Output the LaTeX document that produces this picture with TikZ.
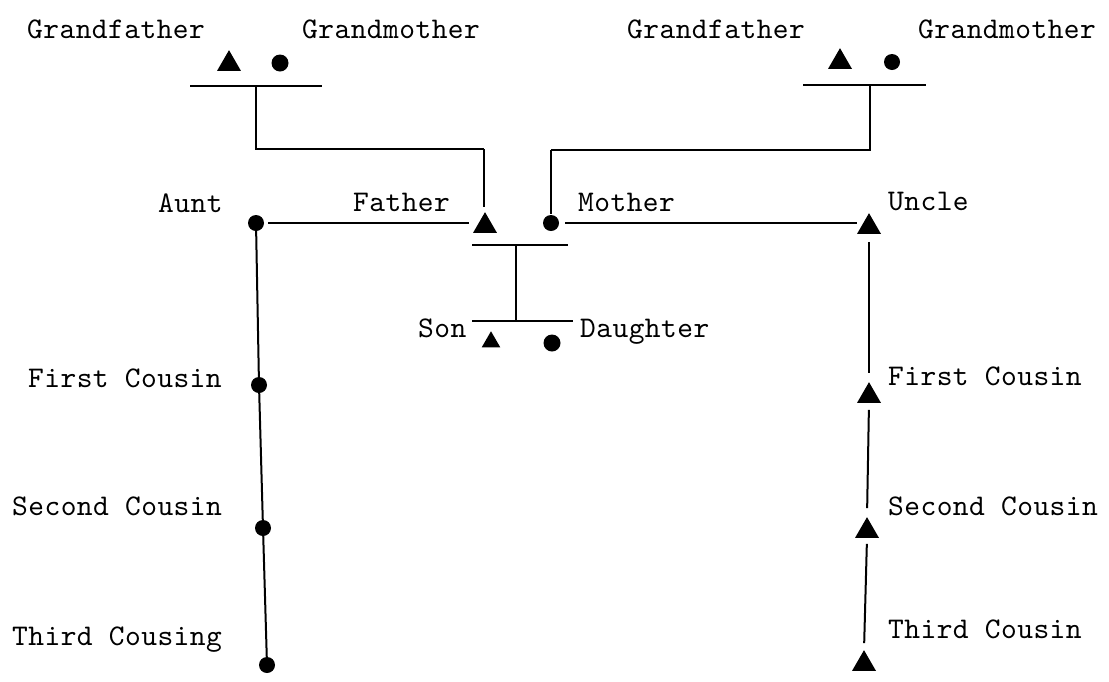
\documentclass[tikz,border=0pt]{standalone}
\usepackage{fontspec}
\newfontfamily\twfont{lmmono10-regular.otf}[LetterSpace=1.5]
\usetikzlibrary{shapes.geometric}
\begin{document}
\begin{tikzpicture}[x=1pt,y=-1pt,
  lbl/.style={anchor=base west, inner sep=0, font=\twfont\fontsize{30}{30}\selectfont},
  male/.style={regular polygon, regular polygon sides=3, fill=black, inner sep=0, outer sep=0, minimum size=27.7pt},
  smale/.style={male, minimum size=21.5pt},
  female/.style={circle, fill=black, inner sep=0, outer sep=0, minimum size=16pt},
  link/.style={line width=2pt}]
\useasboundingbox (0,0) rectangle (1109,681);

% labels
\node[lbl] (tGFL) at (27,38) {Grandfather};
\node[lbl] (tGML) at (302,38) {Grandmother};
\node[lbl] (tGFR) at (627,38) {Grandfather};
\node[lbl] (tGMR) at (918,38) {Grandmother};
\node[lbl] (tAunt) at (158,212) {Aunt};
\node[lbl] (tFather) at (353,211) {Father};
\node[lbl] (tMother) at (578,211) {Mother};
\node[lbl] (tUncle) at (888,210) {Uncle};
\node[lbl] (tSon) at (418,337) {Son};
\node[lbl] (tDaughter) at (580,337) {Daughter};
\node[lbl] (tFC1) at (28,387) {First Cousin};
\node[lbl] (tSC1) at (12,515) {Second Cousin};
\node[lbl] (tTC1) at (12,645) {Third Cousing};
\node[lbl] (tFC2) at (888,385) {First Cousin};
\node[lbl] (tSC2) at (888,515) {Second Cousin};
\node[lbl] (tTC2) at (888,638) {Third Cousin};

% symbols
\node[male] (GFL) at (229,64) {};
\node[female, minimum size=17pt] (GML) at (280,63) {};
\node[male] (GFR) at (840,62) {};
\node[female] (GMR) at (892,62) {};
\node[male] (Father) at (485,226) {};
\node[female] (Mother) at (551,223) {};
\node[female] (Aunt) at (256,223) {};
\node[male] (Uncle) at (869,227) {};
\node[smale] (Son) at (491,342) {};
\node[female, minimum size=17pt] (Daughter) at (552,343) {};
\node[female] (FC1) at (259,385) {};
\node[female] (SC1) at (263,528) {};
\node[female] (TC1) at (267,665) {};
\node[male] (FC2) at (869,396) {};
\node[male] (SC2) at (867,531) {};
\node[male] (TC2) at (864,664) {};

% marriage bars and junctions
\coordinate (barLa) at (190,86);
\coordinate (barLb) at (322,86);
\coordinate (gL) at (256,86);
\coordinate (jL) at (484,149);
\coordinate (barRa) at (803,85);
\coordinate (barRb) at (926,85);
\coordinate (gR) at (870,85);
\coordinate (jR) at (551,150);
\coordinate (pBa) at (472,245);
\coordinate (pBb) at (568,245);
\coordinate (pM) at (516,245);
\coordinate (cBa) at (472,321);
\coordinate (cBb) at (573,321);
\coordinate (cM) at (516,321);

\draw[link] (barLa) -- (barLb);
\draw[link] (gL) |- (jL);
\draw[link, shorten >=5pt] (jL) -- (jL |- Father.north);
\draw[link] (barRa) -- (barRb);
\draw[link] (gR) |- (jR);
\draw[link, shorten >=9pt] (jR) -- (Mother.center);

\draw[link, shorten <=4pt, shorten >=8pt] (Aunt.east) -- (Aunt.east -| Father.west);
\draw[link, shorten <=6pt, shorten >=4pt] (Mother.east) -- (Mother.east -| Uncle.west);

\draw[link] (pBa) -- (pBb);
\draw[link] (pM) -- (cM);
\draw[link] (cBa) -- (cBb);

\draw[link] (Aunt.center) -- (FC1.center) -- (SC1.center) -- (TC1.center);

\draw[link, shorten <=8pt, shorten >=9pt] (Uncle.south) -- (FC2.north);
\draw[link, shorten <=7pt, shorten >=9pt] (FC2.south) -- (SC2.north);
\draw[link, shorten <=6pt, shorten >=7pt] (SC2.south) -- (TC2.north);
\end{tikzpicture}
\end{document}
